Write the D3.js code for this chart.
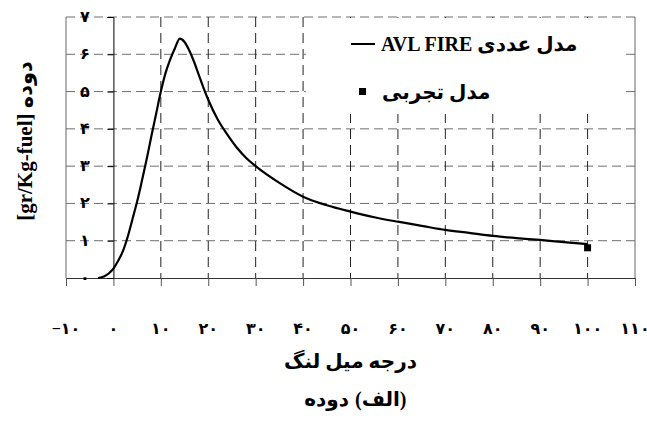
<!DOCTYPE html>
<html>
<head>
<meta charset="utf-8">
<script src="https://cdn.jsdelivr.net/npm/d3@7"></script>
<style>
  body { margin: 0; background: #fff; }
  text { font-family: "Liberation Serif", "DejaVu Sans", serif; font-weight: bold; fill: #000; }
</style>
</head>
<body>
<svg></svg>
<script>
// crank angle (deg) and soot [gr/Kg-fuel]
let simX = [-3.2, -2, -1, 0, 1, 2, 3, 4, 5, 6, 7, 8, 9, 10, 11, 12, 13, 14, 15, 16, 17, 18, 19, 20, 22, 24, 26, 28, 30, 35, 40, 45, 50, 55, 60, 65, 70, 75, 80, 85, 90, 95, 100];
let simY = [0, 0.04, 0.12, 0.25, 0.46, 0.72, 1.1, 1.57, 2.05, 2.6, 3.18, 3.8, 4.4, 5.0, 5.5, 5.87, 6.17, 6.42, 6.33, 6.1, 5.8, 5.45, 5.1, 4.78, 4.25, 3.85, 3.5, 3.22, 3.0, 2.55, 2.18, 1.95, 1.78, 1.63, 1.51, 1.4, 1.29, 1.21, 1.13, 1.07, 1.02, 0.96, 0.91];
let expX = [100];
let expY = [0.81];

let xTicks = [-10, 0, 10, 20, 30, 40, 50, 60, 70, 80, 90, 100, 110];
let yTicks = [0, 1, 2, 3, 4, 5, 6, 7];

let legendSim = "AVL FIRE مدل عددی";
let legendExp = "مدل تجربی";
let xTitle = "درجه میل لنگ";
let yTitle = "[gr/Kg-fuel] دوده";
// caption in two parts: the word on the left, the bracketed letter on the right
let captionParts = ["دوده", "(الف)"];

let width = 647;
let height = 425;
let plotLeft = 66;
let plotRight = 635;
let plotTop = 17;
let plotBottom = 278;

let faDigits = "۰۱۲۳۴۵۶۷۸۹";
let toFa = n => String(n).replace(/-/g, "−").replace(/[0-9]/g, d => faDigits[+d]);

let svg = d3.select("svg").attr("width", width).attr("height", height);

let xScale = d3.scaleLinear().domain([-10, 110]).range([plotLeft, plotRight]);
let yScale = d3.scaleLinear().domain([0, 7]).range([plotBottom, plotTop]);

// legend backdrop blocks the grid behind it
let drawGrid = () => {
  svg.append("g")
    .selectAll("line")
    .data(yTicks.slice(1))
    .enter()
    .append("line")
    .attr("x1", plotLeft)
    .attr("x2", plotRight)
    .attr("y1", d => yScale(d))
    .attr("y2", d => yScale(d))
    .attr("stroke", "#6e6e6e")
    .attr("stroke-dasharray", "9,5");

  svg.append("g")
    .selectAll("line")
    .data(xTicks.filter(d => d != -10 && d != 0 && d != 110))
    .enter()
    .append("line")
    .attr("x1", d => xScale(d))
    .attr("x2", d => xScale(d))
    .attr("y1", plotTop)
    .attr("y2", plotBottom)
    .attr("stroke", "#222")
    .attr("stroke-dasharray", "10,6");

  svg.append("rect")
    .attr("x", 306)
    .attr("y", plotTop + 1)
    .attr("width", 319)
    .attr("height", 96)
    .attr("fill", "#fff");

  svg.append("line")
    .attr("x1", plotLeft).attr("x2", plotLeft)
    .attr("y1", plotTop).attr("y2", plotBottom)
    .attr("stroke", "#666");
  svg.append("line")
    .attr("x1", plotRight).attr("x2", plotRight)
    .attr("y1", plotTop).attr("y2", plotBottom)
    .attr("stroke", "#666");
};

let drawAxes = () => {
  let xAxis = d3.axisBottom(xScale).tickValues(xTicks).tickSize(8).tickFormat("");
  svg.append("g")
    .attr("transform", "translate(0," + plotBottom + ")")
    .call(xAxis)
    .call(g => g.select(".domain").attr("stroke", "#333"))
    .call(g => g.selectAll(".tick line").attr("stroke", "#555"));

  svg.append("g")
    .selectAll("text")
    .data(xTicks)
    .enter()
    .append("text")
    .attr("x", d => xScale(d))
    .attr("y", 334)
    .attr("text-anchor", "middle")
    .style("font-size", "16px")
    .style("letter-spacing", "-2px")
    .text(d => toFa(d));

  let yAxis = d3.axisLeft(yScale).tickValues(yTicks).tickSize(6).tickFormat("");
  svg.append("g")
    .attr("transform", "translate(" + xScale(0) + ",0)")
    .call(yAxis)
    .call(g => g.select(".domain").attr("stroke", "#000"))
    .call(g => g.selectAll(".tick line").attr("stroke", "#000"));

  svg.append("g")
    .selectAll("text")
    .data(yTicks)
    .enter()
    .append("text")
    .attr("x", 85)
    .attr("y", d => yScale(d) + 5)
    .attr("text-anchor", "middle")
    .style("font-size", "16px")
    .text(d => toFa(d));

  svg.append("text")
    .attr("x", (plotLeft + plotRight) / 2)
    .attr("y", 368)
    .attr("text-anchor", "middle")
    .style("font-size", "20px")
    .text(xTitle);

  svg.append("text")
    .attr("x", 349)
    .attr("y", 406)
    .attr("text-anchor", "end")
    .style("font-size", "20px")
    .text(captionParts[0]);
  svg.append("text")
    .attr("x", 355)
    .attr("y", 406)
    .attr("text-anchor", "start")
    .style("font-size", "20px")
    .text(captionParts[1]);

  svg.append("text")
    .attr("transform", "translate(32," + 141 + ") rotate(-90)")
    .attr("text-anchor", "middle")
    .style("font-size", "21px")
    .text(yTitle);
};

let drawSeries = () => {
  let line = d3.line()
    .x(d => xScale(d[0]))
    .y(d => yScale(d[1]))
    .curve(d3.curveMonotoneX);

  svg.append("path")
    .datum(d3.zip(simX, simY))
    .attr("d", line)
    .attr("fill", "none")
    .attr("stroke", "#000")
    .attr("stroke-width", 2.2);

  svg.append("g")
    .selectAll("rect")
    .data(d3.zip(expX, expY))
    .enter()
    .append("rect")
    .attr("x", d => xScale(d[0]) - 3.5)
    .attr("y", d => yScale(d[1]) - 3.5)
    .attr("width", 7)
    .attr("height", 7)
    .attr("fill", "#000");
};

let drawLegend = () => {
  svg.append("line")
    .attr("x1", 351).attr("x2", 375)
    .attr("y1", 44).attr("y2", 44)
    .attr("stroke", "#000")
    .attr("stroke-width", 2);
  svg.append("text")
    .attr("x", 381)
    .attr("y", 51)
    .style("font-size", "20px")
    .text(legendSim);

  svg.append("rect")
    .attr("x", 359).attr("y", 88)
    .attr("width", 7).attr("height", 7)
    .attr("fill", "#000");
  svg.append("text")
    .attr("x", 382)
    .attr("y", 99)
    .style("font-size", "20px")
    .text(legendExp);
};

drawGrid();
drawAxes();
drawSeries();
drawLegend();
</script>
</body>
</html>
